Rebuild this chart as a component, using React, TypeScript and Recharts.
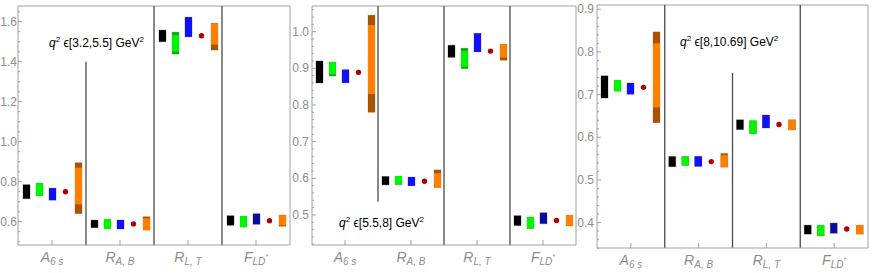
import { ComposedChart, Bar, XAxis, YAxis, ReferenceLine } from 'recharts';

const categories = ['A6s', 'RAB', 'RLT', 'FLD'];

// q^2 in [3.2, 5.5]
const p1Black = [[0.715, 0.785], [0.570, 0.608], [1.500, 1.558], [0.582, 0.630]];
const p1Green = [[0.730, 0.793], [0.565, 0.612], [1.438, 1.548], [0.573, 0.628]];
const p1GreenIn = [[0.730, 0.793], [0.565, 0.612], [1.450, 1.533], [0.573, 0.628]];
const p1Blue = [[0.708, 0.767], [0.564, 0.608], [1.525, 1.622], [0.587, 0.640]];
const p1BlueIn = [[0.708, 0.767], [0.564, 0.608], [1.525, 1.622], null];
const p1Red = [0.750, 0.589, 1.530, 0.605];
const p1Orange = [[0.640, 0.895], [0.558, 0.625], [1.458, 1.592], [0.577, 0.633]];
const p1OrangeIn = [[0.687, 0.870], [0.558, 0.617], [1.485, 1.590], [0.582, 0.633]];

// q^2 in [5.5, 8]
const p2Black = [[0.860, 0.920], [0.582, 0.605], [0.930, 0.963], [0.471, 0.498]];
const p2Green = [[0.879, 0.917], [0.583, 0.606], [0.899, 0.955], [0.463, 0.494]];
const p2GreenIn = [[0.883, 0.917], [0.583, 0.606], [0.904, 0.947], [0.463, 0.494]];
const p2Blue = [[0.861, 0.896], [0.580, 0.603], [0.945, 0.995], [0.476, 0.506]];
const p2BlueIn = [[0.861, 0.896], [0.580, 0.603], [0.945, 0.995], null];
const p2Red = [0.889, 0.592, 0.947, 0.485];
const p2Orange = [[0.780, 1.045], [0.575, 0.623], [0.922, 0.966], [0.470, 0.499]];
const p2OrangeIn = [[0.830, 1.018], [0.575, 0.614], [0.929, 0.966], [0.470, 0.499]];

// q^2 in [8, 10.69]
const p3Black = [[0.692, 0.744], [0.531, 0.555], [0.618, 0.641], [0.373, 0.394]];
const p3Green = [[0.708, 0.734], [0.534, 0.555], [0.608, 0.639], [0.369, 0.394]];
const p3GreenIn = [[0.708, 0.734], [0.534, 0.555], [0.608, 0.639], [0.369, 0.394]];
const p3Blue = [[0.701, 0.727], [0.532, 0.555], [0.622, 0.652], [0.375, 0.399]];
const p3BlueIn = [[0.701, 0.727], [0.532, 0.555], [0.622, 0.652], null];
const p3Red = [0.717, 0.543, 0.630, 0.385];
const p3Orange = [[0.634, 0.847], [0.530, 0.562], [0.617, 0.641], [0.373, 0.394]];
const p3OrangeIn = [[0.670, 0.820], [0.530, 0.558], [0.617, 0.641], [0.373, 0.394]];

const p1Major = [0.6, 0.8, 1.0, 1.2, 1.4, 1.6];
const p2Major = [0.5, 0.6, 0.7, 0.8, 0.9, 1.0];
const p3Major = [0.4, 0.5, 0.6, 0.7, 0.8, 0.9];

const AXIS = '#a0a0a0';
const DIV = '#4a4a4a';
const LABEL = '#8c8c8c';
const FONT = '"Liberation Sans", Arial, sans-serif';

const range = (a: number, b: number, step: number) => {
  const out: number[] = [];
  for (let i = 0; a + i * step <= b + 1e-9; i++) out.push(+(a + i * step).toFixed(3));
  return out;
};

const p1Ticks = range(0.5, 1.65, 0.05);
const p2Ticks = range(0.42, 1.06, 0.02);
const p3Ticks = range(0.34, 0.9, 0.02);

function rows(black, green, greenIn, blue, blueIn, red, orange, orangeIn) {
  return categories.map((cat, i) => ({
    cat,
    black: black[i],
    green: green[i],
    greenIn: greenIn[i],
    blue: blue[i],
    blueIn: blueIn[i],
    red: [red[i], red[i]],
    orange: orange[i],
    orangeIn: orangeIn[i],
  }));
}

const series = [
  { key: 'black', dark: '#000000', light: '#000000' },
  { key: 'green', dark: '#1e9e1e', light: '#00f500' },
  { key: 'blue', dark: '#0c0c9c', light: '#1010ff' },
  { key: 'red', dark: '#b00000', light: '#b00000' },
  { key: 'orange', dark: '#a85300', light: '#ff8000' },
];

function rangeShape(key: string, dark: string, light: string) {
  return (p: any) => {
    const { x, y, width, height, payload } = p;
    const top = Math.min(y, y + height);
    const h = Math.abs(height);
    if (key === 'red') {
      return <circle cx={x + width / 2} cy={top + h / 2} r={2.7} fill={dark} />;
    }
    const [lo, hi] = payload[key];
    const inner = payload[key + 'In'];
    const ppu = h / (hi - lo);
    return (
      <g>
        <rect x={x} y={top} width={width} height={h} fill={dark} stroke={dark} strokeOpacity={0.25} strokeWidth={1} />
        {inner && (
          <rect
            x={x}
            y={top + (hi - inner[1]) * ppu}
            width={width}
            height={(inner[1] - inner[0]) * ppu}
            fill={light}
          />
        )}
      </g>
    );
  };
}

const subs: Record<string, [string, string, string?]> = {
  A6s: ['A', '6 s'],
  RAB: ['R', 'A, B'],
  RLT: ['R', 'L, T'],
  FLD: ['F', 'LD', '*'],
};

const XTick = (p: any) => {
  const { x, y, payload } = p;
  const [main, sub, sup] = subs[payload.value];
  return (
    <g>
      <line x1={x} x2={x} y1={y} y2={y - 5} stroke={AXIS} />
      <text x={x} y={y + 17} textAnchor="middle" fill={LABEL} fontStyle="italic" fontFamily={FONT} fontSize={14}>
        <tspan>{main}</tspan>
        <tspan dy={3} fontSize={10}>{sub}</tspan>
        {sup && <tspan dy={-6} fontSize={7}>{sup}</tspan>}
      </text>
    </g>
  );
};

function yTick(majors: number[], gap: number) {
  return (p: any) => {
    const { x, y, payload } = p;
    const v = payload.value;
    const isMajor = majors.some((m) => Math.abs(m - v) < 1e-6);
    const ax = x + gap;
    return (
      <g>
        <line x1={ax} x2={ax + (isMajor ? 4 : 2)} y1={y} y2={y} stroke={AXIS} />
        {isMajor && (
          <text x={x} y={y + 4} textAnchor="end" fill={LABEL} fontFamily={FONT} fontSize={12}>
            {v.toFixed(1)}
          </text>
        )}
      </g>
    );
  };
}

function Panel({ left, width, data, domain, ticks, majors, margin, yWidth, xHeight, gap, dividers }: any) {
  return (
    <div style={{ position: 'absolute', left, top: 0 }}>
      <ComposedChart width={width} height={273} data={data} margin={margin} barSize={7} barGap={6}>
        <XAxis
          dataKey="cat"
          height={xHeight}
          tick={XTick}
          tickSize={0}
          tickMargin={0}
          tickLine={false}
          interval={0}
          axisLine={{ stroke: AXIS }}
        />
        <YAxis
          type="number"
          domain={domain}
          allowDataOverflow
          ticks={ticks}
          interval={0}
          width={yWidth}
          tick={yTick(majors, gap)}
          tickSize={0}
          tickMargin={gap}
          tickLine={false}
          axisLine={{ stroke: AXIS }}
        />
        <ReferenceLine y={domain[1]} stroke={AXIS} />
        <ReferenceLine x="FLD" position="end" stroke={AXIS} />
        {dividers.map((d: any, i: number) =>
          d.from === undefined ? (
            <ReferenceLine key={i} x={d.x} position="start" stroke={DIV} strokeWidth={1.3} />
          ) : (
            <ReferenceLine
              key={i}
              position="start"
              segment={[{ x: d.x, y: d.from }, { x: d.x, y: d.to }]}
              stroke={DIV}
              strokeWidth={1.3}
            />
          )
        )}
        {series.map((s) => (
          <Bar
            key={s.key}
            dataKey={s.key}
            shape={rangeShape(s.key, s.dark, s.light)}
            isAnimationActive={false}
          />
        ))}
      </ComposedChart>
    </div>
  );
}

const data1 = rows(p1Black, p1Green, p1GreenIn, p1Blue, p1BlueIn, p1Red, p1Orange, p1OrangeIn);
const data2 = rows(p2Black, p2Green, p2GreenIn, p2Blue, p2BlueIn, p2Red, p2Orange, p2OrangeIn);
const data3 = rows(p3Black, p3Green, p3GreenIn, p3Blue, p3BlueIn, p3Red, p3Orange, p3OrangeIn);

const Bin = ({ x, y, range: r }: { x: number; y: number; range: string }) => (
  <text x={x} y={y} fontFamily={FONT} fontSize={12} fill="#000">
    <tspan fontStyle="italic">q</tspan>
    <tspan dy={-5} fontSize={8}>2</tspan>
    <tspan dy={5}> ϵ[{r}] GeV</tspan>
    <tspan dy={-5} fontSize={8}>2</tspan>
  </text>
);

export default function App() {
  return (
    <div style={{ position: 'absolute', left: 0, top: 0, width: 872, height: 273, background: '#fff', overflow: 'hidden' }}>
      <Panel
        left={0}
        width={292}
        data={data1}
        domain={[0.4835, 1.6785]}
        ticks={p1Ticks}
        majors={p1Major}
        margin={{ top: 6, right: 2, bottom: 0, left: 0 }}
        yWidth={18}
        xHeight={28}
        gap={1}
        dividers={[{ x: 'RAB', from: 0.4835, to: 1.4 }, { x: 'RLT' }, { x: 'FLD' }]}
      />
      <Panel
        left={288}
        width={290}
        data={data2}
        domain={[0.418, 1.07]}
        ticks={p2Ticks}
        majors={p2Major}
        margin={{ top: 6, right: 2, bottom: 0, left: 0 }}
        yWidth={24}
        xHeight={28}
        gap={3}
        dividers={[{ x: 'RAB', from: 0.537, to: 1.07 }, { x: 'RLT' }, { x: 'FLD' }]}
      />
      <Panel
        left={572}
        width={300}
        data={data3}
        domain={[0.3405, 0.91]}
        ticks={p3Ticks}
        majors={p3Major}
        margin={{ top: 5, right: 4, bottom: 0, left: 0 }}
        yWidth={25}
        xHeight={25}
        gap={3}
        dividers={[{ x: 'RAB' }, { x: 'RLT', from: 0.3405, to: 0.751 }, { x: 'FLD' }]}
      />
      <svg width={872} height={273} style={{ position: 'absolute', left: 0, top: 0, pointerEvents: 'none' }}>
        <Bin x={49} y={47} range="3.2,5.5" />
        <Bin x={339} y={227} range="5.5,8" />
        <Bin x={680} y={46} range="8,10.69" />
      </svg>
    </div>
  );
}
